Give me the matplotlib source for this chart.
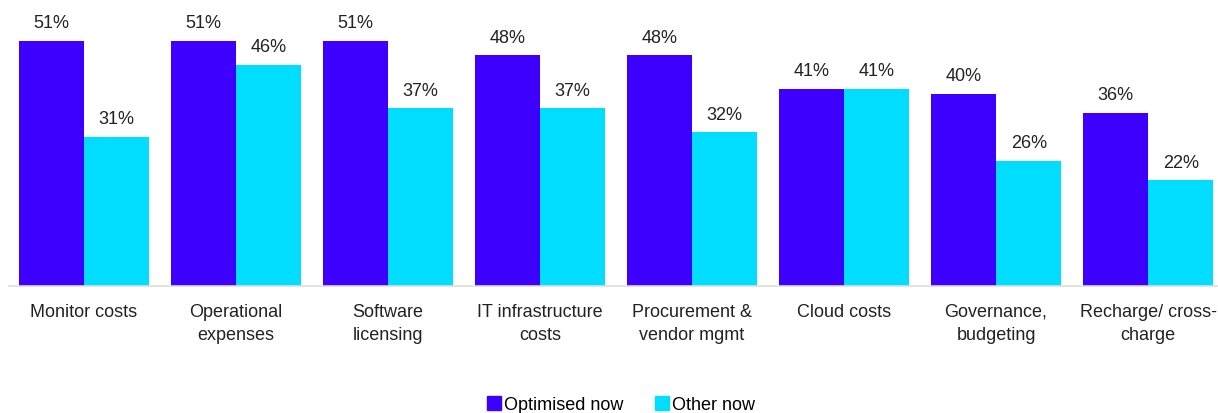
import matplotlib.pyplot as plt
import numpy as np
from matplotlib.lines import Line2D

# Data
categories = ['Monitor costs', 'Operational\nexpenses', 'Software\nlicensing', 'IT infrastructure\ncosts',
              'Procurement &\nvendor mgmt', 'Cloud costs', 'Governance,\nbudgeting', 'Recharge/ cross-\ncharge']
optimised = [51, 51, 51, 48, 48, 41, 40, 36]
other = [31, 46, 37, 37, 32, 41, 26, 22]
series_names = ['Optimised now', 'Other now']

purple = '#3D00FF'
cyan = '#00DDFF'

plt.rcParams['font.family'] = ['Liberation Sans', 'DejaVu Sans']

fig = plt.figure(figsize=(12.18, 4.14), dpi=100)
ax = fig.add_axes([9 / 1218, 127 / 414, 1 - 9 / 1218, 1 - 127 / 414])

x = np.arange(len(categories))
w = 0.43
b1 = ax.bar(x - w / 2, optimised, w, color=purple)
b2 = ax.bar(x + w / 2, other, w, color=cyan)

for bars, vals in [(b1, optimised), (b2, other)]:
    for bar, v in zip(bars, vals):
        ax.annotate(f'{v}%', (bar.get_x() + bar.get_width() / 2, bar.get_height()),
                    xytext=(0, 7), textcoords='offset points',
                    ha='center', va='bottom', fontsize=13, color='#222222')

ax.set_xlim(-0.493, 7.46)
ax.set_ylim(0, 59.74)
ax.set_xticks(x)
ax.set_xticklabels(categories, fontsize=13, color='#222222', linespacing=1.5)
ax.tick_params(axis='x', length=0, pad=12)
ax.set_yticks([])
for s in ['top', 'right', 'left']:
    ax.spines[s].set_visible(False)
ax.spines['bottom'].set_color('#dddddd')
ax.spines['bottom'].set_linewidth(1.2)

handles = [Line2D([], [], marker='s', linestyle='', markersize=10, color=purple),
           Line2D([], [], marker='s', linestyle='', markersize=10, color=cyan)]
fig.legend(handles, series_names, loc='center', bbox_to_anchor=(620 / 1218, 8 / 414),
           ncol=2, frameon=False, fontsize=13, handletextpad=0.05, columnspacing=1.6,
           handlelength=1)

plt.savefig('out.png', dpi=100)
